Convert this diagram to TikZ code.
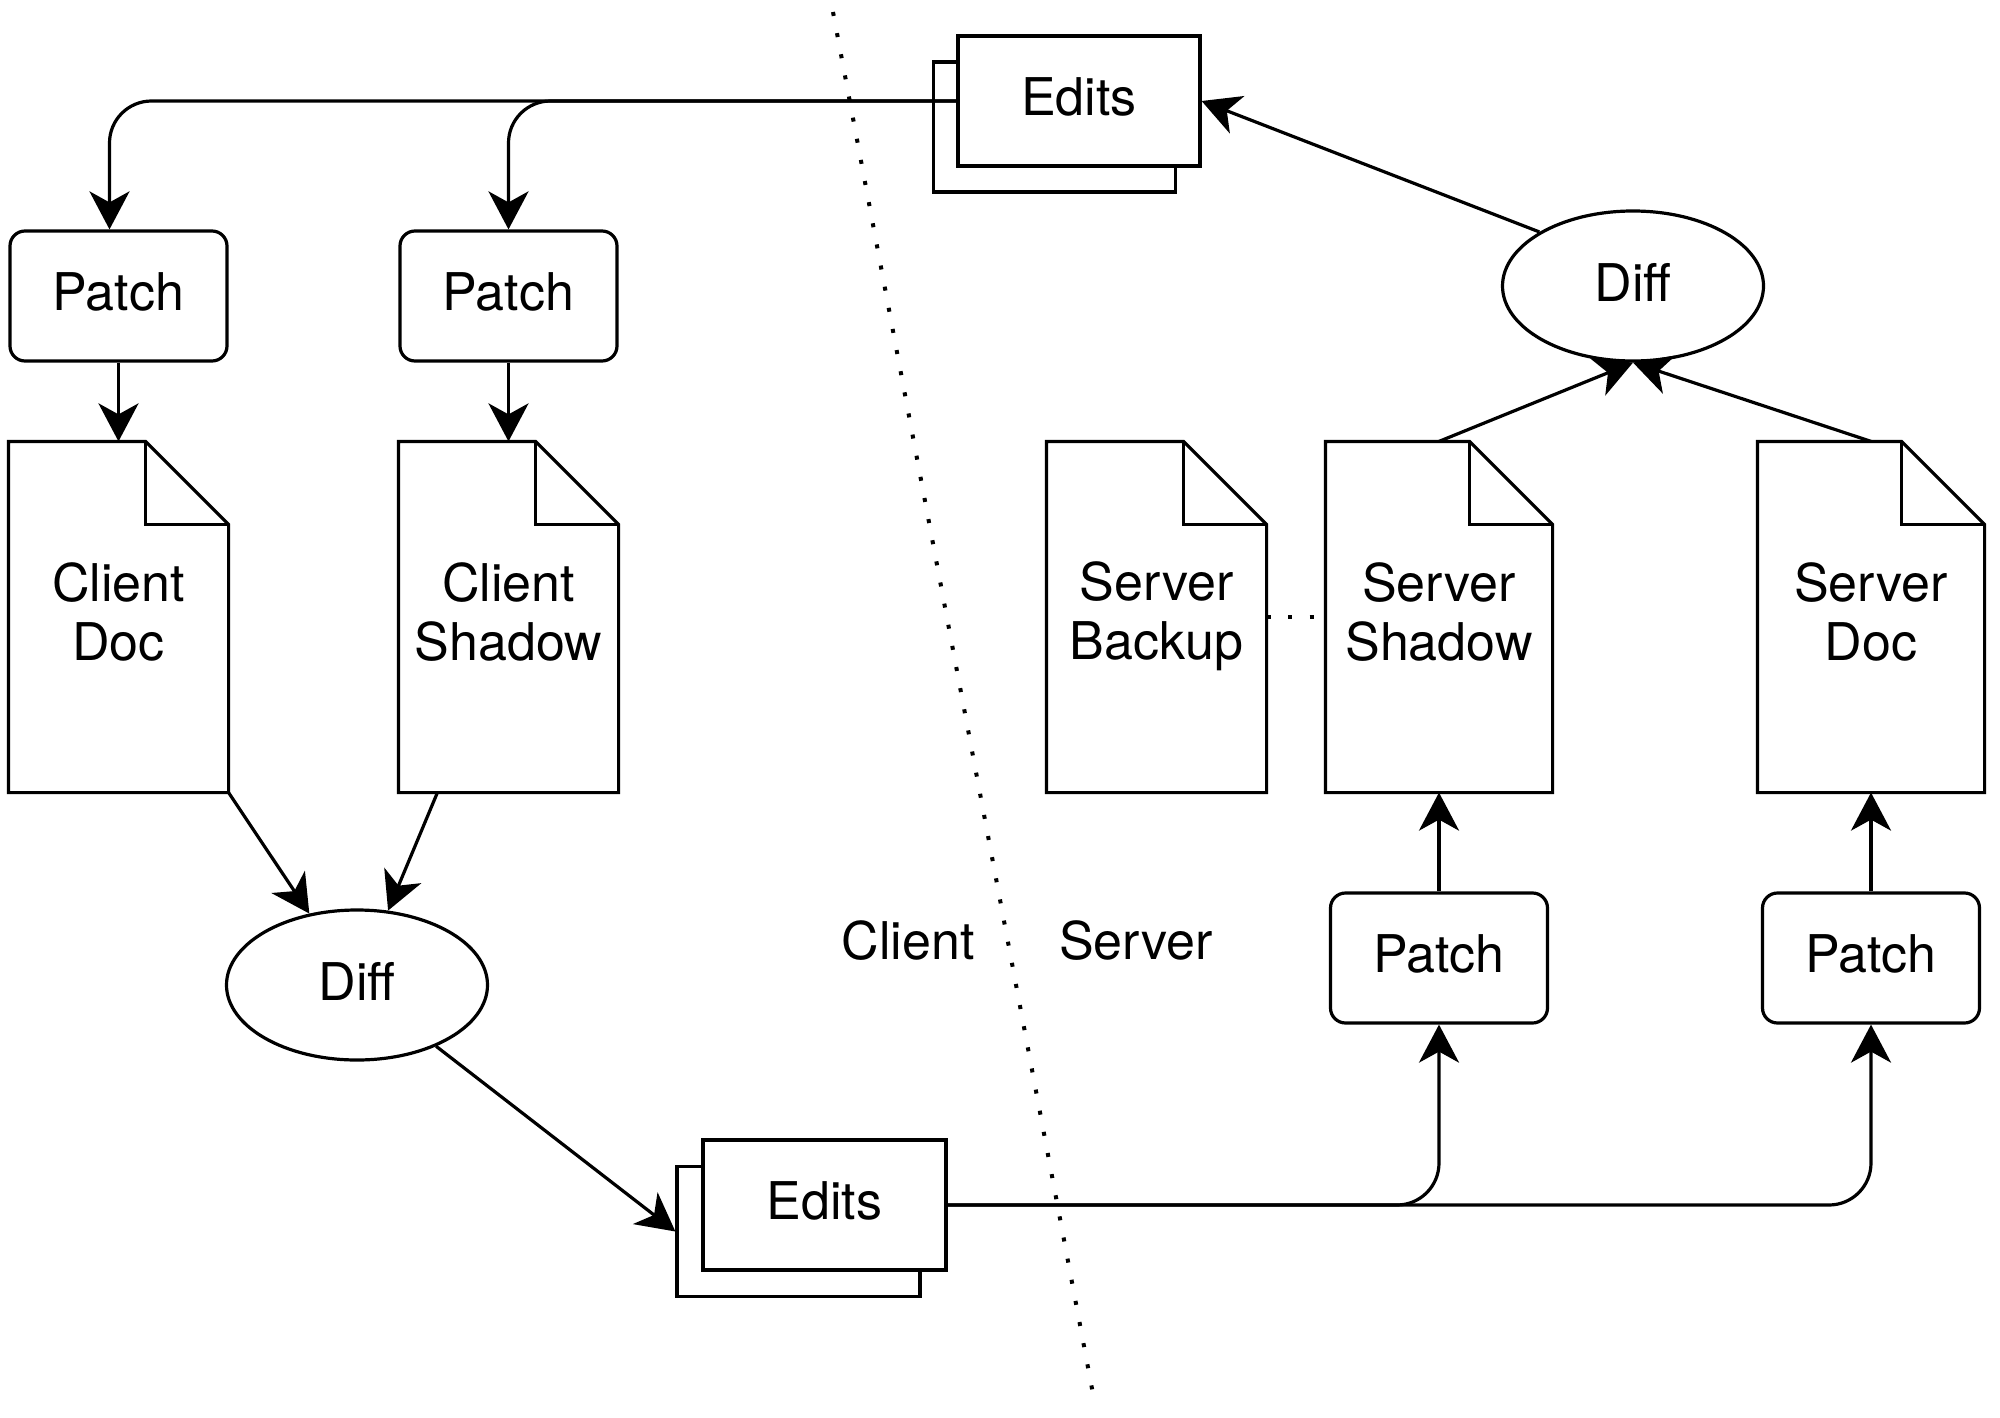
\documentclass[tikz,border=0pt]{standalone}
\usepackage{fontspec}
\setmainfont{TeX Gyre Heros}
\usetikzlibrary{arrows.meta,shapes.geometric,calc}
\tikzset{
  lw/.style={line width=3.2pt},
  base/.style={lw, draw=black, fill=white, font=\fontsize{52}{59}\selectfont, align=center, inner sep=0pt, text depth=8pt},
  patchbox/.style={base, rectangle, rounded corners=15pt, minimum width=217pt, minimum height=130pt},
  editsbox/.style={base, rectangle, minimum width=242pt, minimum height=130pt},
  docnode/.style={base, draw=none, fill=none, rectangle, minimum height=348pt},
  diffnode/.style={base, ellipse, minimum width=261pt, minimum height=150pt},
  lbl/.style={font=\fontsize{52}{59}\selectfont, inner sep=0pt},
  doclbl/.style={lbl, align=center, yshift=5pt},
  conn/.style={lw, draw=black, -{Stealth[length=38pt,width=40pt,inset=11pt]}},
  dotline/.style={line width=4pt, dash pattern=on 4pt off 17.5pt}
}
\newcommand\docoutline[1]{%
  \draw[lw, fill=white] (#1.south west) -- (#1.north west) -- ([xshift=-83pt]#1.north east)
     -- ([yshift=-83pt]#1.north east) -- (#1.south east) -- cycle;
  \draw[lw] ([xshift=-83pt]#1.north east) |- ([yshift=-83pt]#1.north east);}
\begin{document}
\begin{tikzpicture}[x=1pt,y=-1pt]
\useasboundingbox (0,0) rectangle (2000,1418);

% divider
\coordinate (dvA) at (833,12);
\coordinate (dvB) at (1093,1394);
\draw[dotline] (dvA) -- (dvB);

% client side
\node[patchbox] (p1) at (118.5,296) {Patch};
\node[patchbox] (p2) at (508.5,296) {Patch};
\node[docnode, minimum width=217pt] (cd) at (118.5,617) {};
\docoutline{cd}
\node[doclbl] at (cd) {Client\\Doc};
\node[docnode, minimum width=217pt] (cs) at (508.5,617) {};
\docoutline{cs}
\node[doclbl] at (cs) {Client\\Shadow};
\node[diffnode] (d1) at (357,985) {Diff};

% bottom edits
\node[editsbox, minimum width=243pt] (ebb) at (798.5,1231.5) {};
\node[editsbox, minimum width=243pt] (eb) at (824.5,1205) {Edits};

% top edits
\node[editsbox] (teb) at (1054.5,127) {};
\node[editsbox] (te) at (1079,101) {Edits};

% server side
\node[diffnode] (d2) at (1633,286) {Diff};
\node[docnode, minimum width=217pt] (sb) at (1156.5,617) {};
\docoutline{sb}
\node[doclbl, yshift=-4pt] at (sb) {Server\\Backup};
\node[docnode, minimum width=224pt] (ss) at (1439,617) {};
\docoutline{ss}
\node[doclbl] at (ss) {Server\\Shadow};
\node[docnode, minimum width=224pt] (sd) at (1871,617) {};
\docoutline{sd}
\node[doclbl] at (sd) {Server\\Doc};
\node[patchbox] (p3) at (1439,958) {Patch};
\node[patchbox] (p4) at (1871,958) {Patch};

\node[lbl] (lc) at (908,941) {Client};
\node[lbl] (ls) at (1136,941) {Server};

% connectors
\draw[dotline] (sb.east) -- (ss.west);

\draw[conn, rounded corners=42pt] (te.west) -| ([xshift=-9pt]p1.north);
\draw[conn, rounded corners=42pt] (te.west) -| (p2.north);
\draw[conn] (p1.south) -- (cd.north -| p1.south);
\draw[conn] (p2.south) -- (cs.north);
\draw[conn] (cd.south east) -- (d1);
\draw[conn] ([xshift=39pt]cs.south west) -- (d1);
\draw[conn] (d1) -- (ebb.west);

\draw[conn, rounded corners=42pt] (eb.east) -| (p3.south);
\draw[conn, rounded corners=42pt] (eb.east) -| (p4.south);
\draw[conn] (p3.north) -- (ss.south);
\draw[conn] (p4.north) -- (sd.south);
\draw[conn] (ss.north) -- (d2.south);
\draw[conn] (sd.north) -- (d2.south);
\draw[conn] (d2.150) -- (te.east);
\end{tikzpicture}
\end{document}
